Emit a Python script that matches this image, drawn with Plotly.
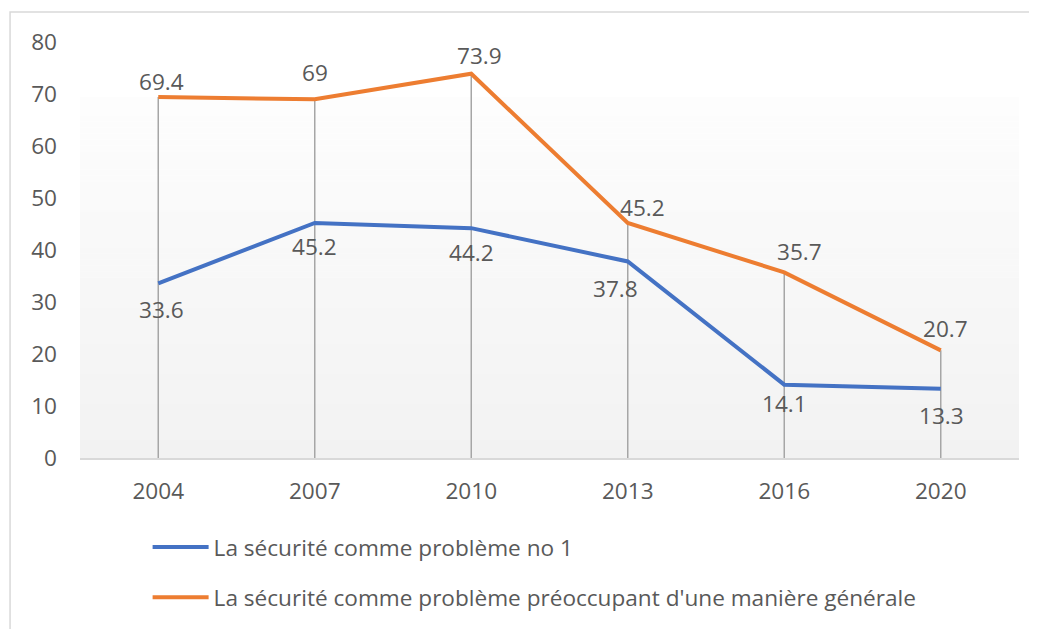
import plotly.graph_objects as go

years = ["2004", "2007", "2010", "2013", "2016", "2020"]
no1 = [33.6, 45.2, 44.2, 37.8, 14.1, 13.3]
general = [69.4, 69.0, 73.9, 45.2, 35.7, 20.7]
name_no1 = "La sécurité comme problème no 1"
name_general = "La sécurité comme problème préoccupant d'une manière générale"
y_ticks = [0, 10, 20, 30, 40, 50, 60, 70, 80]

BLUE = "#4472C4"
ORANGE = "#ED7D31"
TXT = "#595959"
FONT = "Open Sans"
FS = 22.6

# style offsets for data labels (pixels)
no1_xshift = [3, 0, 0, -12, 0, 1]
no1_yshift = [-26, -24, -24, -27, -19, -27]
gen_xshift = [3, 0, 8, 15, 15, 5]
gen_yshift = [16, 27, 18, 15, 21, 22]

xi = list(range(len(years)))

fig = go.Figure()

# drop lines
dx, dy = [], []
for i in xi:
    dx += [i, i, None]
    dy += [0, max(no1[i], general[i]), None]
fig.add_trace(go.Scatter(x=dx, y=dy, mode="lines", line=dict(color="#A6A6A6", width=1.5),
                         showlegend=False, hoverinfo="skip", cliponaxis=False))

fig.add_trace(go.Scatter(x=xi, y=no1, mode="lines", name=name_no1,
                         line=dict(color=BLUE, width=4), legendgroup="a", cliponaxis=False))
fig.add_trace(go.Scatter(x=xi, y=general, mode="lines", name=name_general,
                         line=dict(color=ORANGE, width=4), legendgroup="b", cliponaxis=False))

annotations = []
for i in xi:
    annotations.append(dict(x=i, y=no1[i], xref="x", yref="y", text=f"{no1[i]:g}",
                            showarrow=False, xshift=no1_xshift[i], yshift=no1_yshift[i],
                            font=dict(family=FONT, size=FS, color=TXT)))
    annotations.append(dict(x=i, y=general[i], xref="x", yref="y", text=f"{general[i]:g}",
                            showarrow=False, xshift=gen_xshift[i], yshift=gen_yshift[i],
                            font=dict(family=FONT, size=FS, color=TXT)))

# gradient background bands
shapes = []
n = 60
top = 0.866
for k in range(n):
    y0 = top * k / n
    y1 = top * (k + 1) / n
    t = k / (n - 1)
    c0 = (242, 242, 242)
    c1 = (253, 253, 253)
    c = tuple(round(c0[j] + (c1[j] - c0[j]) * t) for j in range(3))
    shapes.append(dict(type="rect", xref="paper", yref="paper", x0=0, x1=1, y0=y0, y1=y1 + 0.001,
                       fillcolor="rgb(%d,%d,%d)" % c, line=dict(width=0), layer="below"))
# outer chart border
shapes.append(dict(type="rect", xref="paper", yref="paper", x0=-0.0745, x1=1.05, y0=-0.6, y1=1.072,
                   line=dict(color="#D9D9D9", width=1.5), fillcolor="rgba(0,0,0,0)", layer="below"))

fig.update_layout(
    width=1029, height=621,
    margin=dict(l=72, r=18, t=34, b=170),
    paper_bgcolor="white", plot_bgcolor="rgba(0,0,0,0)",
    font=dict(family=FONT, size=FS, color=TXT),
    showlegend=True,
    legend=dict(orientation="v", x=0.072, xanchor="left", y=-0.160, yanchor="top",
                font=dict(family=FONT, size=FS, color=TXT), tracegroupgap=18,
                itemwidth=56, bgcolor="rgba(0,0,0,0)"),
    annotations=annotations,
    shapes=shapes,
    xaxis=dict(range=[-0.5, len(years) - 0.5], tickvals=xi, ticktext=years, showgrid=False,
               showline=True, linecolor="#D9D9D9", linewidth=1.5, ticks="", zeroline=False,
               ticklabelstandoff=12, tickfont=dict(family=FONT, size=FS, color=TXT)),
    yaxis=dict(range=[0, 80], tickvals=y_ticks, showgrid=False, showline=False, zeroline=False,
               ticks="", ticklabelstandoff=22, tickfont=dict(family=FONT, size=FS, color=TXT)),
)

fig.write_html("out.html")
